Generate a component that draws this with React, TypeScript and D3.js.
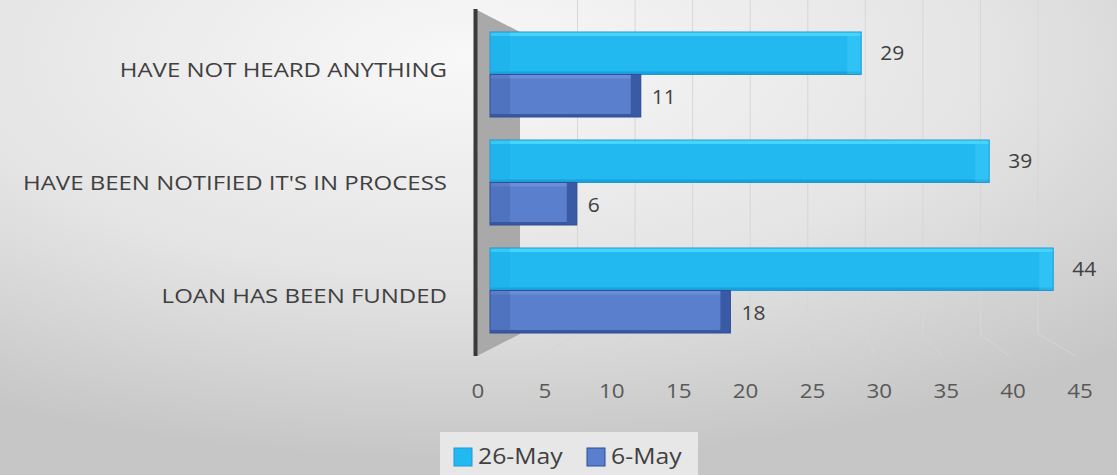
import React from "react";
import * as d3 from "d3";

const categories = ["HAVE NOT HEARD ANYTHING", "HAVE BEEN NOTIFIED IT'S IN PROCESS", "LOAN HAS BEEN FUNDED"];
const seriesNames = ["26-May", "6-May"];
const may26 = [29, 39, 44];
const may6 = [11, 6, 18];
const tickValues = [0, 5, 10, 15, 20, 25, 30, 35, 40, 45];

const W = 1117;
const H = 475;
const FONT = "'Open Sans', 'Noto Sans', sans-serif";

function SText(props: {
  x: number;
  y: number;
  sx: number;
  size: number;
  anchor?: string;
  fill?: string;
  children: React.ReactNode;
}) {
  return (
    <text
      transform={`translate(${props.x},${props.y}) scale(${props.sx},1)`}
      dy="0.35em"
      textAnchor={props.anchor || "start"}
      fontFamily={FONT}
      fontSize={props.size}
      fill={props.fill || "#404040"}
    >
      {props.children}
    </text>
  );
}

export default function App() {
  const xFront = d3.scaleLinear().domain([0, 45]).range([490, 1066]);
  const xBack = d3.scaleLinear().domain([0, 45]).range([520, 1038]);
  const xFloor = d3.scaleLinear().domain([0, 45]).range([478, 1080]);
  const yCat = d3.scaleBand<string>().domain(categories).range([-22, 387]).paddingInner(0.213).paddingOuter(0.5);
  const ySer = d3.scaleBand<string>().domain(seriesNames).range([0, yCat.bandwidth()]).paddingInner(0);
  const yLabel = d3.scalePoint<string>().domain(categories).range([70, 296]);

  const colors = {
    "26-May": { front: "#22b9f0", top: "#48d4fb", end: "#1aa8e2", edge: "#1a9ad6" },
    "6-May": { front: "#5a7fcc", top: "#6a8ed8", end: "#3a5aa6", edge: "#2f4f96" },
  } as Record<string, { front: string; top: string; end: string; edge: string }>;

  const floorFrontY = 356;
  const floorBackY = 334;

  return (
    <svg width={W} height={H} style={{ position: "absolute", left: 0, top: 0 }}>
      <defs>
        <radialGradient id="bg" cx="42%" cy="12%" r="85%">
          <stop offset="0%" stopColor="#f8f8f8" />
          <stop offset="55%" stopColor="#e4e4e4" />
          <stop offset="100%" stopColor="#c6c6c6" />
        </radialGradient>
      </defs>
      <rect x={0} y={0} width={W} height={H} fill="url(#bg)" />

      {/* gridlines on back wall and floor */}
      {tickValues.slice(1).map((t) => (
        <polyline
          key={"g" + t}
          points={`${xBack(t)},0 ${xBack(t)},${floorBackY} ${xFloor(t) - 4},${floorFrontY}`}
          fill="none"
          stroke="#d6d6d6"
          strokeWidth={1}
        />
      ))}

      {/* left wall */}
      <polygon points={`477,10 520,32 520,${floorBackY} 477,${floorFrontY}`} fill="#a9a9a9" />
      <line x1={475.5} y1={9} x2={475.5} y2={floorFrontY} stroke="#3a3a3a" strokeWidth={4} />

      {/* bars */}
      {categories.map((c, i) => {
        const vals = [may26[i], may6[i]];
        return (
          <g key={c}>
            {seriesNames.map((s, j) => {
              const v = vals[j];
              const y0 = (yCat(c) as number) + (ySer(s) as number);
              const h = ySer.bandwidth();
              const x0 = xFront(0);
              const x1 = xFront(v);
              const col = colors[s];
              const capW = j === 0 ? 0 : 10;
              const xe = x1 + capW;
              return (
                <g key={s}>
                  <rect x={x0} y={y0} width={xe - x0} height={h} fill={col.front} />
                  <rect x={x0} y={y0} width={xe - x0} height={4} fill={col.top} />
                  <rect x={x0} y={y0 + h - 3} width={xe - x0} height={3} fill={col.edge} opacity={0.8} />
                  <rect x={x0} y={y0} width={20} height={h} fill={col.end} opacity={0.3} />
                  {j === 0 ? (
                    <rect x={x1 - 14} y={y0} width={14} height={h} fill={col.top} opacity={0.35} />
                  ) : (
                    <rect x={x1} y={y0} width={capW} height={h} fill={col.end} />
                  )}
                  <rect x={x0} y={y0} width={xe - x0} height={h} fill="none" stroke={col.edge} strokeWidth={1} />
                  <SText x={xe + (j === 0 ? 19 : 11)} y={y0 + h / 2 + (j === 0 ? 0 : 1)} sx={1.05} size={20}>
                    {v}
                  </SText>
                </g>
              );
            })}
          </g>
        );
      })}

      {/* category labels */}
      {categories.map((c) => (
        <SText key={"l" + c} x={447} y={yLabel(c) as number} sx={1.2} size={20} anchor="end">
          {c}
        </SText>
      ))}

      {/* x tick labels */}
      {tickValues.map((t) => (
        <SText key={"t" + t} x={xFloor(t)} y={391} sx={1.12} size={20} anchor="middle" fill="#595959">
          {t}
        </SText>
      ))}

      {/* legend */}
      <rect x={440} y={432} width={258} height={43} fill="#e7e7e7" />
      {seriesNames.map((s, j) => {
        const lx = j === 0 ? 454 : 587;
        return (
          <g key={"lg" + s}>
            <rect x={lx} y={448} width={18} height={18} fill={colors[s].front} stroke={colors[s].edge} strokeWidth={1} />
            <SText x={lx + 24} y={457} sx={1.18} size={21}>
              {s}
            </SText>
          </g>
        );
      })}
    </svg>
  );
}
